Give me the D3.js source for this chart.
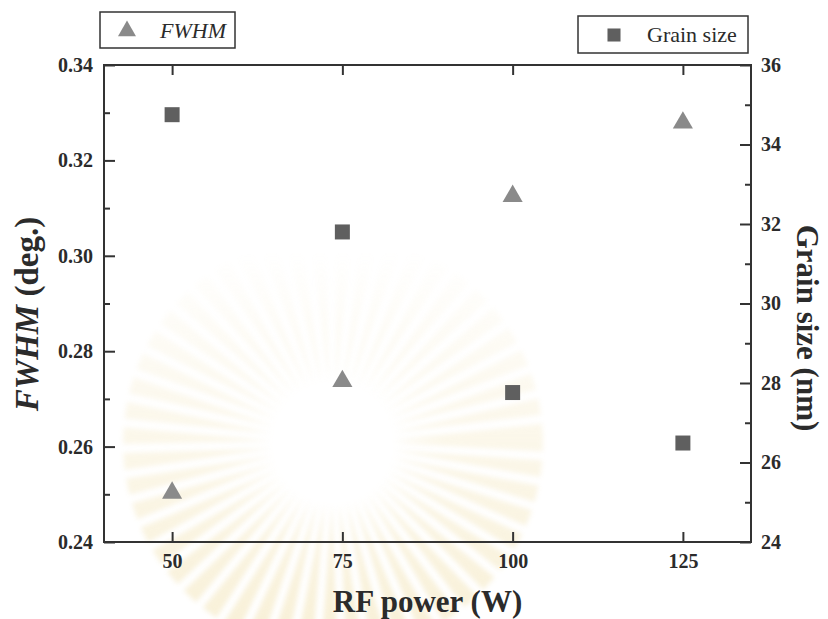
<!DOCTYPE html>
<html>
<head>
<meta charset="utf-8">
<script src="https://cdn.jsdelivr.net/npm/d3@7"></script>
<style>
  html, body { margin: 0; padding: 0; background: #fff; }
  svg { display: block; }
  text { font-family: "Liberation Serif", "Times New Roman", serif; fill: #2b2b2b; }
</style>
</head>
<body>
<svg id="chart" width="828" height="619"></svg>
<script>
// RF power settings (W)
const rfPower = [50, 75, 100, 125];
// XRD peak width (deg.)
const fwhm = [0.2505, 0.2739, 0.3127, 0.3281];
// Crystallite size (nm)
const grainSize = [34.75, 31.80, 27.76, 26.49];

const xTicks = [50, 75, 100, 125];
const fwhmTicks = [0.24, 0.26, 0.28, 0.30, 0.32, 0.34];
const fwhmMinor = [0.25, 0.27, 0.29, 0.31, 0.33];
const grainTicks = [24, 26, 28, 30, 32, 34, 36];
const grainMinor = [25, 27, 29, 31, 33, 35];

const svg = d3.select("#chart");
const m = { left: 104, right: 751, top: 65, bottom: 542 };

const x = d3.scaleLinear().domain([40, 135]).range([m.left, m.right]);
const yL = d3.scaleLinear().domain([0.24, 0.34]).range([m.bottom, m.top]);
const yR = d3.scaleLinear().domain([24, 36]).range([m.bottom, m.top]);

// faint emblem in the background, fading out towards the top
const defs = svg.append("defs");
const grad = defs.append("linearGradient").attr("id", "fade")
  .attr("gradientUnits", "userSpaceOnUse").attr("x1", 0).attr("y1", 250).attr("x2", 0).attr("y2", 619);
grad.append("stop").attr("offset", 0).attr("stop-color", "#fff").attr("stop-opacity", 0);
grad.append("stop").attr("offset", 0.45).attr("stop-color", "#fff").attr("stop-opacity", 0.5);
grad.append("stop").attr("offset", 1).attr("stop-color", "#fff").attr("stop-opacity", 1);
defs.append("mask").attr("id", "fadeMask").attr("maskUnits", "userSpaceOnUse")
  .attr("x", 0).attr("y", 0).attr("width", 828).attr("height", 619)
  .append("rect").attr("width", 828).attr("height", 619).attr("fill", "url(#fade)");
defs.append("filter").attr("id", "soft").append("feGaussianBlur").attr("stdDeviation", 2.5);

const emblem = svg.append("g").attr("mask", "url(#fadeMask)").attr("opacity", 0.4)
  .append("g").attr("transform", "translate(333,443)").attr("filter", "url(#soft)");
const rays = d3.range(0, 360, 7);
emblem.selectAll("path.ray").data(rays).join("path")
  .attr("class", "ray")
  .attr("d", a => {
    const r0 = 60, r1 = 210, w = 2.3;
    const t = a * Math.PI / 180;
    const t0 = t - w * Math.PI / 180, t1 = t + w * Math.PI / 180;
    return `M${r0 * Math.cos(t)},${r0 * Math.sin(t)}L${r1 * Math.cos(t0)},${r1 * Math.sin(t0)}L${r1 * Math.cos(t1)},${r1 * Math.sin(t1)}Z`;
  })
  .attr("fill", "#efdca0");

const fontTick = 20;

// bottom axis
svg.append("g").attr("transform", `translate(0,${m.bottom})`)
  .call(d3.axisBottom(x).tickValues(xTicks).tickSize(-10).tickPadding(12).tickFormat(d3.format("d")));
// top axis (ticks only)
svg.append("g").attr("transform", `translate(0,${m.top})`)
  .call(d3.axisTop(x).tickValues(xTicks).tickSize(-10).tickFormat(""));
// left axis
svg.append("g").attr("transform", `translate(${m.left},0)`)
  .call(d3.axisLeft(yL).tickValues(fwhmTicks).tickSize(-11).tickPadding(11).tickFormat(d3.format(".2f")));
svg.append("g").attr("transform", `translate(${m.left},0)`)
  .call(d3.axisLeft(yL).tickValues(fwhmMinor).tickSize(-6).tickFormat(""));
// right axis
svg.append("g").attr("transform", `translate(${m.right},0)`)
  .call(d3.axisRight(yR).tickValues(grainTicks).tickSize(-11).tickPadding(10).tickFormat(d3.format("d")));
svg.append("g").attr("transform", `translate(${m.right},0)`)
  .call(d3.axisRight(yR).tickValues(grainMinor).tickSize(-6).tickFormat(""));

svg.selectAll(".domain").remove();
svg.selectAll(".tick line").attr("stroke", "#333").attr("stroke-width", 2);
svg.selectAll(".tick text")
  .attr("font-family", "'Liberation Serif', serif")
  .attr("font-size", fontTick).attr("font-weight", "bold").attr("fill", "#2b2b2b");

// frame
svg.append("rect")
  .attr("x", m.left).attr("y", m.top)
  .attr("width", m.right - m.left).attr("height", m.bottom - m.top)
  .attr("fill", "none").attr("stroke", "#333").attr("stroke-width", 2);

// data points
const triSym = d3.symbol().type(d3.symbolTriangle).size(175);
const sqSym = d3.symbol().type(d3.symbolSquare).size(225);

svg.append("g").selectAll("path").data(rfPower.map((p, i) => [p, grainSize[i]])).join("path")
  .attr("d", sqSym)
  .attr("transform", d => `translate(${x(d[0])},${yR(d[1])})`)
  .attr("fill", "#5f5f5f");

svg.append("g").selectAll("path").data(rfPower.map((p, i) => [p, fwhm[i]])).join("path")
  .attr("d", triSym)
  .attr("transform", d => `translate(${x(d[0])},${yL(d[1]) + 1})`)
  .attr("fill", "#8a8a8a");

// legends
const legL = svg.append("g");
legL.append("rect").attr("x", 100).attr("y", 12).attr("width", 135).attr("height", 36)
  .attr("fill", "#fff").attr("stroke", "#333").attr("stroke-width", 1.5);
legL.append("path").attr("d", d3.symbol().type(d3.symbolTriangle).size(140))
  .attr("transform", "translate(127,31)").attr("fill", "#8a8a8a");
legL.append("text").attr("x", 160).attr("y", 38).attr("font-size", 22).attr("font-style", "italic")
  .text("FWHM");

const legR = svg.append("g");
legR.append("rect").attr("x", 578).attr("y", 16).attr("width", 170).attr("height", 37)
  .attr("fill", "#fff").attr("stroke", "#333").attr("stroke-width", 1.5);
legR.append("path").attr("d", d3.symbol().type(d3.symbolSquare).size(170))
  .attr("transform", "translate(614,35)").attr("fill", "#5f5f5f");
legR.append("text").attr("x", 647).attr("y", 42).attr("font-size", 22).text("Grain size");

// axis titles
svg.append("text").attr("x", (m.left + m.right) / 2).attr("y", 612)
  .attr("text-anchor", "middle").attr("font-size", 31).attr("font-weight", "bold")
  .text("RF power (W)");

const tl = svg.append("text").attr("transform", "translate(38,314) rotate(-90)")
  .attr("text-anchor", "middle").attr("font-size", 33).attr("font-weight", "bold");
tl.append("tspan").attr("font-style", "italic").text("FWHM");
tl.append("tspan").text(" (deg.)");

svg.append("text").attr("transform", "translate(797,328) rotate(90)")
  .attr("text-anchor", "middle").attr("font-size", 31).attr("font-weight", "bold")
  .text("Grain size (nm)");
</script>
</body>
</html>
